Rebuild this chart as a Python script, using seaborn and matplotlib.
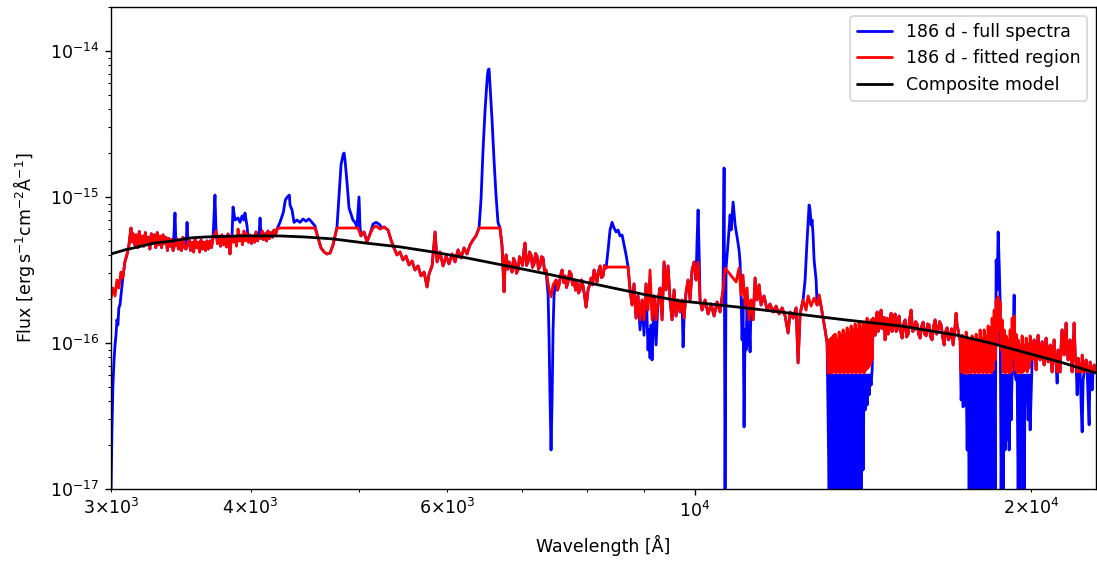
import math
import matplotlib
matplotlib.use("Agg")
import matplotlib.pyplot as plt
from matplotlib.ticker import FuncFormatter, NullFormatter
import seaborn as sns
import pandas as pd

# ---------------- data (wavelength in Angstrom, flux in units of 1e-16 erg/s/cm2/A) -------------
FLUX_UNIT = 1e-16

# --- UV blue edge (differs between the two series)
full_edge = [(3000, 0.091), (3006, 0.253), (3012, 0.515), (3019, 0.765), (3025, 0.969), (3031, 1.13),
             (3037, 1.44), (3043, 1.33), (3049, 1.74), (3056, 1.82), (3062, 2.10), (3074, 2.79)]
fit_edge = [(3000, 2.03), (3012, 2.38), (3025, 2.10), (3037, 2.70), (3049, 2.38), (3062, 3.06),
            (3074, 2.79)]

# --- UV/blue continuum pieces shared by both series
cont_1 = [(3087, 3.59), (3100, 4.01), (3113, 4.69), (3126, 6.13), (3133, 4.92), (3140, 5.6),
          (3150, 4.7), (3160, 5.5), (3170, 4.5), (3180, 5.8), (3190, 4.8), (3200, 5.4), (3210, 4.6),
          (3220, 5.7), (3230, 4.9), (3240, 5.3), (3250, 4.4), (3260, 5.6), (3270, 4.8), (3280, 5.5),
          (3290, 4.5), (3300, 5.7), (3310, 4.7), (3320, 5.4), (3330, 4.5), (3340, 5.5), (3350, 4.8),
          (3360, 5.3), (3370, 4.3), (3380, 5.2), (3390, 4.6), (3400, 5.1), (3410, 4.3)]
cont_2 = [(3437, 5.16), (3447, 4.4), (3458, 5.0), (3468, 4.3), (3480, 5.3), (3491, 4.5), (3502, 4.4)]
cont_3 = [(3524, 5.08), (3535, 4.3), (3546, 4.9), (3557, 4.2), (3568, 5.24), (3579, 4.5), (3590, 4.9),
          (3601, 4.2), (3612, 5.08), (3623, 4.4), (3634, 4.9), (3645, 4.3), (3656, 5.0), (3667, 4.4),
          (3679, 5.0), (3690, 4.5), (3702, 5.24)]
cont_4 = [(3725, 5.85), (3736, 4.8), (3748, 5.4), (3760, 4.6), (3771, 5.5), (3783, 4.7), (3795, 5.2),
          (3806, 4.55), (3818, 5.58), (3826, 4.6), (3834, 4.07), (3842, 5.0), (3850, 5.41)]
cont_5 = [(3983, 4.9), (3995, 5.49), (4008, 4.8), (4020, 5.4), (4032, 4.9), (4045, 5.76), (4058, 5.0),
          (4070, 5.4)]
cont_6 = [(4088, 5.2), (4096, 5.85), (4108, 5.1), (4121, 5.6), (4134, 5.0), (4146, 5.85), (4159, 5.2),
          (4172, 5.7), (4185, 5.3), (4198, 5.94), (4211, 5.5), (4224, 6.03)]

# --- narrow emission spikes only in the full spectrum
full_spike_a = [(3423, 7.77), (3430, 4.69)]
full_spike_b = [(3509, 6.70), (3516, 4.69)]
full_spike_c = [(3717, 10.3)]
full_spike_d = [(4079, 7.18)]
full_plateau = [(3858, 8.54), (3874, 6.95), (3898, 7.18), (3914, 6.70), (3930, 7.41), (3946, 6.95),
                (3954, 7.77), (3971, 6.33)]
fit_plateau = [(3862, 4.9), (3874, 5.3), (3886, 4.6), (3898, 6.03), (3910, 5.0), (3922, 5.5),
               (3934, 4.7), (3946, 5.85), (3958, 5.0), (3971, 5.6)]

# --- Hbeta region
full_hbeta = [(4250, 6.70), (4280, 7.88), (4297, 9.53), (4315, 10.0), (4333, 10.3), (4339, 8.81),
              (4357, 8.15), (4375, 6.70), (4402, 6.95), (4429, 6.70), (4457, 7.07), (4484, 6.82),
              (4512, 7.07), (4540, 6.70), (4568, 6.33), (4597, 5.24), (4625, 4.48), (4654, 4.20),
              (4683, 4.07), (4712, 4.13), (4741, 4.69), (4761, 5.41), (4780, 6.23), (4800, 10.3),
              (4820, 16.6), (4840, 19.4), (4850, 20.0), (4860, 17.9), (4880, 12.5), (4900, 8.41),
              (4920, 7.65), (4940, 6.95), (4961, 6.70), (4981, 6.23), (5002, 10.0), (5012, 6.33),
              (5022, 5.41), (5054, 5.76), (5085, 4.92), (5117, 5.58), (5149, 6.53), (5181, 6.70),
              (5212, 6.53), (5245, 6.13), (5267, 6.23), (5310, 5.94)]
fit_hbeta = [(4250, 6.13), (4568, 6.13), (4597, 5.24), (4625, 4.48), (4654, 4.20), (4683, 4.07),
             (4712, 4.13), (4741, 4.69), (4761, 5.41), (4780, 6.13), (4991, 6.13), (5022, 5.41),
             (5054, 5.76), (5085, 4.92), (5117, 5.58), (5149, 6.13), (5181, 6.33), (5223, 6.03),
             (5267, 6.23), (5310, 5.94)]

# --- optical continuum shared by both
cont_optical = [(5343, 5.08), (5376, 4.48), (5409, 4.01), (5443, 4.20), (5477, 3.70), (5511, 3.94),
                (5545, 3.42), (5580, 3.64), (5614, 3.16), (5649, 3.37), (5684, 2.88), (5720, 3.06),
                (5755, 2.42), (5779, 2.97), (5815, 3.37), (5851, 5.76), (5875, 3.59), (5911, 4.20),
                (5948, 3.37), (5985, 3.94), (6022, 3.48), (6059, 4.07), (6097, 3.59), (6135, 4.34),
                (6173, 3.82), (6211, 4.48), (6249, 4.07), (6288, 4.69), (6327, 5.08), (6366, 5.41),
                (6406, 6.13)]

# --- Halpha (only in the full spectrum; the fit is flat across it)
full_halpha = [(6432, 9.53), (6459, 21.0), (6486, 39.4), (6513, 63.3), (6526, 74.1), (6540, 75.3),
               (6553, 58.5), (6580, 33.7), (6607, 17.9), (6634, 10.3), (6661, 6.70)]

cont_red_1 = [(6689, 6.13), (6717, 4.62), (6745, 2.24), (6760, 3.5), (6774, 4.01), (6795, 3.2),
              (6815, 3.59), (6836, 3.3), (6857, 3.06), (6878, 3.8), (6899, 3.59), (6920, 3.0),
              (6942, 3.16), (6963, 3.9), (6985, 3.70), (7006, 3.4), (7028, 4.34), (7043, 4.84),
              (7065, 3.4), (7087, 3.59), (7109, 4.2), (7131, 4.01), (7153, 3.3), (7175, 3.48),
              (7197, 4.1), (7219, 3.94), (7241, 3.2), (7264, 3.37), (7287, 3.9), (7310, 3.82),
              (7332, 3.1), (7355, 3.16)]
full_dip_7400 = [(7386, 2.13), (7401, 1.05), (7416, 0.407), (7431, 0.185), (7447, 0.407),
                 (7462, 1.23), (7477, 2.13)]
fit_dip_7400 = [(7401, 2.31), (7431, 2.07), (7462, 2.50)]
cont_red_2 = [(7508, 2.70), (7531, 2.3), (7555, 2.50), (7578, 2.9), (7602, 3.16), (7625, 2.6),
              (7649, 2.88), (7672, 2.4), (7696, 2.62), (7720, 3.1), (7744, 2.97), (7768, 2.5),
              (7792, 2.70), (7816, 2.3), (7840, 2.58), (7865, 2.2), (7889, 2.31), (7913, 2.7),
              (7938, 2.46), (7963, 2.1), (7988, 1.76), (8004, 2.0), (8020, 2.31), (8045, 2.5),
              (8070, 2.79), (8095, 2.5), (8120, 3.16), (8145, 2.9), (8170, 2.62), (8195, 3.1),
              (8221, 3.37), (8246, 2.8), (8272, 2.88), (8298, 3.4), (8324, 3.26)]
full_ca = [(8358, 4.34), (8392, 5.94), (8427, 6.70), (8462, 6.13), (8497, 5.76), (8532, 5.94),
           (8567, 5.41), (8603, 5.49), (8638, 4.69), (8674, 4.01), (8710, 3.31)]
fit_ca = [(8341, 3.31), (8710, 3.31)]

full_z = [(8745, 2.31), (8781, 1.82), (8817, 2.54), (8854, 1.48), (8890, 2.10), (8927, 1.23),
          (8964, 1.97), (9001, 1.13), (9038, 2.54), (9075, 0.895), (9094, 1.23), (9113, 0.789),
          (9132, 1.33), (9151, 0.765), (9170, 1.23), (9189, 2.10), (9227, 0.969), (9265, 1.97),
          (9303, 2.38), (9342, 1.44), (9380, 3.59), (9419, 2.31), (9458, 3.37), (9497, 1.97),
          (9536, 1.44), (9576, 2.31), (9615, 1.53), (9655, 1.97), (9695, 1.63), (9735, 1.97),
          (9755, 0.939), (9775, 1.48), (9816, 2.24), (9856, 2.70), (9897, 1.97), (9938, 3.16),
          (9979, 3.59), (10020, 2.70), (10041, 5.08), (10062, 8.15), (10082, 4.34), (10103, 1.97),
          (10145, 1.68), (10208, 1.97), (10271, 1.58), (10335, 1.85), (10399, 1.53), (10463, 1.91),
          (10528, 1.63), (10593, 2.31), (10616, 15.8), (10637, 0.091)]
fit_z = [(8745, 2.31), (8781, 1.82), (8817, 2.54), (8854, 1.48), (8890, 2.10), (8927, 1.44),
         (8964, 1.97), (9001, 1.44), (9038, 2.54), (9075, 1.68), (9113, 3.16), (9151, 1.44),
         (9189, 2.10), (9227, 1.44), (9265, 1.97), (9303, 2.38), (9342, 1.44), (9380, 3.59),
         (9419, 2.31), (9458, 3.37), (9497, 1.97), (9536, 1.44), (9576, 2.31), (9615, 1.53),
         (9655, 1.97), (9695, 1.63), (9735, 1.97), (9775, 1.48), (9816, 2.24), (9856, 2.70),
         (9897, 1.97), (9938, 3.16), (9979, 3.59), (10020, 2.70), (10062, 3.59), (10103, 1.97),
         (10145, 1.68), (10208, 1.97), (10271, 1.58), (10335, 1.85), (10399, 1.53), (10463, 1.91),
         (10528, 1.63), (10593, 2.31), (10637, 3.26)]

full_j = [(10659, 3.26), (10703, 4.84), (10748, 7.53), (10770, 5.94), (10815, 9.22), (10860, 6.43),
          (10904, 5.32), (10948, 4.34), (10971, 3.59), (10994, 2.13), (11017, 1.05), (11039, 1.97),
          (11062, 0.266), (11085, 1.23), (11108, 0.895), (11131, 1.97), (11154, 0.969), (11177, 1.44),
          (11200, 0.868), (11223, 1.97), (11270, 1.44), (11316, 2.79), (11363, 1.97), (11410, 2.50),
          (11457, 1.82), (11528, 2.10), (11599, 1.68), (11671, 1.85), (11743, 1.63), (11817, 1.79),
          (11890, 1.58), (11964, 1.74), (12039, 1.53), (12113, 1.17), (12163, 1.63), (12239, 1.48),
          (12315, 1.74), (12365, 0.730), (12416, 1.58), (12493, 1.97), (12545, 2.70), (12597, 5.08),
          (12649, 8.81), (12675, 8.15), (12701, 6.43), (12727, 6.95), (12753, 5.49), (12780, 3.70),
          (12833, 2.70), (12859, 1.82), (12912, 2.13), (12992, 1.63), (13073, 1.23), (13127, 1.00)]
fit_j = [(10881, 2.62), (10948, 3.26), (10994, 2.13), (11039, 2.92), (11085, 1.82), (11131, 2.38),
         (11177, 1.44), (11223, 1.97), (11270, 1.44), (11316, 2.79), (11363, 1.97), (11410, 2.50),
         (11457, 1.82), (11528, 2.10), (11599, 1.68), (11671, 1.85), (11743, 1.63), (11817, 1.79),
         (11890, 1.58), (11964, 1.74), (12039, 1.53), (12113, 1.17), (12163, 1.63), (12239, 1.48),
         (12315, 1.74), (12365, 0.730), (12416, 1.58), (12493, 1.97), (12571, 1.68), (12623, 2.10),
         (12701, 1.79), (12780, 2.03), (12859, 1.82), (12912, 2.13), (12992, 1.63), (13073, 1.23),
         (13127, 1.00)]

full_telluric1 = [(13155, 0.297), (13182, 0.091), (13208, 0.604), (13235, 0.091), (13263, 0.604),
                  (13290, 0.091), (13318, 0.604), (13345, 0.091), (13373, 0.604), (13400, 0.091),
                  (13428, 0.604), (13456, 0.091), (13483, 0.604), (13511, 0.091), (13539, 0.604),
                  (13567, 0.091), (13595, 0.604), (13624, 0.091), (13652, 0.604), (13680, 0.091),
                  (13708, 0.604), (13737, 0.091), (13764, 0.604), (13793, 0.091), (13821, 0.604),
                  (13850, 0.091), (13879, 0.604), (13907, 0.091), (13936, 0.604), (13965, 0.091),
                  (13993, 0.604), (14022, 0.091), (14051, 0.604), (14080, 0.091), (14109, 0.604),
                  (14138, 0.135), (14168, 0.604), (14197, 0.348), (14226, 0.604), (14255, 0.376),
                  (14285, 0.604), (14314, 0.441), (14344, 0.604), (14374, 0.515), (14404, 0.654),
                  (14434, 1.48)]
fit_telluric1 = [(13155, 0.623), (13182, 1.05), (13208, 0.623), (13235, 1.08), (13263, 0.623),
                 (13290, 1.12), (13318, 0.640), (13345, 1.15), (13373, 0.623), (13400, 1.05),
                 (13428, 0.633), (13456, 1.19), (13483, 0.623), (13511, 1.12), (13539, 0.640),
                 (13567, 1.23), (13595, 0.623), (13624, 1.15), (13652, 0.633), (13680, 1.27),
                 (13708, 0.623), (13737, 1.19), (13764, 0.640), (13793, 1.31), (13821, 0.623),
                 (13850, 1.23), (13879, 0.633), (13907, 1.35), (13936, 0.623), (13965, 1.23),
                 (13993, 0.640), (14022, 1.39), (14051, 0.623), (14080, 1.27), (14109, 0.633),
                 (14138, 1.39), (14168, 0.623), (14197, 1.31), (14226, 0.654), (14255, 1.48),
                 (14285, 0.674), (14314, 1.35), (14344, 0.707), (14374, 1.44), (14404, 0.765),
                 (14434, 1.48)]

cont_h = [(14464, 1.2), (14494, 1.13), (14523, 1.45), (14553, 1.63), (14583, 1.2), (14613, 1.27),
          (14643, 1.55), (14673, 1.68), (14704, 1.25), (14734, 1.33), (14764, 1.5), (14794, 1.05),
          (14825, 1.3), (14856, 1.48), (14887, 1.15), (14917, 1.23), (14948, 1.45), (14979, 1.60),
          (15010, 1.2), (15041, 1.31), (15071, 1.5), (15102, 1.58), (15133, 1.2), (15165, 1.23),
          (15196, 1.45), (15228, 1.53), (15275, 1.2), (15322, 1.08), (15370, 1.35), (15418, 1.44),
          (15466, 1.1), (15514, 1.15), (15561, 1.45), (15609, 1.68), (15658, 1.2), (15707, 1.23),
          (15755, 1.4), (15804, 1.35), (15852, 1.15), (15901, 1.08), (15951, 1.3), (16001, 1.39),
          (16051, 1.15), (16101, 1.12), (16150, 1.35), (16199, 1.33), (16249, 1.1), (16299, 1.05),
          (16349, 1.3), (16400, 1.44), (16451, 1.15), (16502, 1.23), (16553, 1.4), (16605, 1.33),
          (16657, 1.1), (16709, 0.969), (16760, 1.2), (16812, 1.27), (16864, 1.05), (16916, 1.12),
          (16968, 1.25), (17021, 0.969), (17074, 1.2), (17127, 1.60), (17162, 1.3), (17197, 1.23),
          (17233, 1.1), (17268, 1.05)]

full_telluric2 = [(17304, 0.407), (17340, 0.604), (17376, 0.365), (17412, 0.604), (17448, 0.376),
                  (17485, 0.604), (17520, 0.185), (17556, 0.604), (17592, 0.091), (17628, 0.604),
                  (17665, 0.091), (17701, 0.604), (17738, 0.091), (17775, 0.604), (17811, 0.091),
                  (17848, 0.604), (17885, 0.091), (17922, 0.604), (17958, 0.091), (17995, 0.604),
                  (18032, 0.091), (18070, 0.604), (18107, 0.091), (18145, 0.604), (18182, 0.091),
                  (18220, 0.604), (18257, 0.091), (18295, 0.604), (18332, 0.091), (18370, 0.604),
                  (18408, 0.091), (18446, 0.604), (18484, 0.091), (18523, 1.23), (18561, 0.091),
                  (18600, 3.70), (18638, 2.31), (18676, 5.76), (18714, 3.59), (18752, 1.97),
                  (18791, 0.091), (18830, 0.604), (18870, 0.091), (18909, 0.604), (18948, 0.185),
                  (18987, 0.604), (19026, 0.217), (19065, 0.604), (19104, 0.185), (19143, 0.604),
                  (19182, 0.297), (19222, 0.604), (19262, 1.05), (19302, 2.13), (19342, 0.604),
                  (19381, 0.558), (19422, 0.604), (19462, 0.091), (19502, 0.604), (19542, 0.091),
                  (19583, 0.604), (19623, 0.091), (19664, 0.604), (19705, 0.091), (19746, 0.604),
                  (19787, 0.407), (19828, 0.604), (19869, 0.297), (19909, 0.604), (19949, 0.254)]
fit_telluric2 = [(17304, 0.633), (17340, 1.13), (17376, 0.623), (17412, 1.05), (17448, 0.633),
                 (17485, 1.19), (17520, 0.614), (17556, 1.08), (17592, 0.633), (17628, 1.02),
                 (17665, 0.623), (17701, 1.12), (17738, 0.633), (17775, 1.02), (17811, 0.623),
                 (17848, 1.15), (17885, 0.633), (17922, 1.05), (17958, 0.623), (17995, 1.23),
                 (18032, 0.633), (18070, 1.08), (18107, 0.623), (18145, 1.23), (18182, 0.633),
                 (18220, 1.12), (18257, 0.623), (18295, 1.31), (18332, 0.633), (18370, 1.27),
                 (18408, 0.623), (18446, 1.48), (18484, 0.654), (18523, 1.68), (18561, 0.765),
                 (18600, 1.97), (18638, 0.969), (18676, 2.07), (18714, 1.23), (18752, 1.91),
                 (18791, 0.895), (18830, 1.44), (18870, 0.633), (18909, 1.23), (18948, 0.623),
                 (18987, 1.12), (19026, 0.633), (19065, 1.05), (19104, 0.623), (19143, 1.23),
                 (19182, 0.633), (19222, 1.48), (19262, 0.765), (19302, 1.53), (19342, 0.654),
                 (19381, 1.15), (19422, 0.623), (19462, 1.05), (19502, 0.633), (19542, 0.969),
                 (19583, 0.623), (19623, 1.12), (19664, 0.633), (19705, 0.969), (19746, 0.654),
                 (19787, 1.08), (19828, 0.633), (19869, 0.985), (19909, 0.674), (19949, 1.12)]

full_k = [(20032, 0.765), (20074, 0.95), (20115, 1.05), (20157, 0.8), (20199, 0.654), (20240, 0.95),
          (20281, 1.13), (20323, 0.85), (20364, 0.765), (20406, 0.9), (20449, 1.02), (20491, 0.8),
          (20534, 0.707), (20576, 0.95), (20618, 1.08), (20661, 0.85), (20704, 0.741), (20746, 0.9),
          (20789, 0.969), (20832, 0.75), (20875, 0.633), (20918, 0.9), (20962, 1.05), (21005, 0.8),
          (21048, 0.707), (21091, 0.531), (21135, 0.895), (21178, 0.75), (21221, 0.633),
          (21265, 0.95), (21309, 1.23), (21353, 0.9), (21397, 0.828), (21441, 1.0), (21485, 1.37),
          (21530, 0.9), (21574, 0.765), (21618, 0.9), (21663, 1.05), (21708, 0.8), (21753, 0.633),
          (21798, 0.9), (21843, 1.37), (21888, 0.85), (21933, 0.707), (21979, 0.441), (22024, 0.786),
          (22070, 0.7), (22115, 0.633), (22161, 0.376), (22207, 0.246), (22253, 0.558), (22299, 0.633),
          (22345, 0.72), (22391, 0.765), (22437, 0.65), (22483, 0.407), (22529, 0.275), (22575, 0.741),
          (22622, 0.65), (22669, 0.477), (22715, 0.65), (22762, 0.707), (22806, 0.64), (22850, 0.654),
          (23080, 0.633)]
fit_k = [(20032, 0.765), (20074, 0.95), (20115, 1.05), (20157, 0.8), (20199, 0.654), (20240, 0.95),
         (20281, 1.13), (20323, 0.85), (20364, 0.765), (20406, 0.9), (20449, 1.02), (20491, 0.8),
         (20534, 0.707), (20576, 0.95), (20618, 1.08), (20661, 0.85), (20704, 0.741), (20746, 0.9),
         (20789, 0.969), (20832, 0.75), (20875, 0.633), (20918, 0.9), (20962, 1.05), (21005, 0.8),
         (21048, 0.707), (21091, 0.633), (21135, 0.895), (21178, 0.75), (21221, 0.633),
         (21265, 0.95), (21309, 1.23), (21353, 0.9), (21397, 0.828), (21441, 1.0), (21485, 1.37),
         (21530, 0.9), (21574, 0.765), (21618, 0.9), (21663, 1.05), (21708, 0.8), (21753, 0.633),
         (21798, 0.9), (21843, 1.37), (21888, 0.85), (21933, 0.707), (21979, 0.633), (22024, 0.786),
         (22070, 0.7), (22115, 0.633), (22161, 0.633), (22207, 0.828), (22253, 0.633), (22299, 0.633),
         (22345, 0.72), (22391, 0.765), (22437, 0.65), (22483, 0.633), (22529, 0.633), (22575, 0.741),
         (22622, 0.65), (22669, 0.633), (22715, 0.65), (22762, 0.707), (22806, 0.64), (22850, 0.654),
         (23080, 0.633)]

# --- composite model (black)
model = [(3000, 4.07), (3087, 4.34), (3172, 4.55), (3284, 4.84), (3402, 4.99), (3531, 5.24),
         (3641, 5.32), (3914, 5.41), (4250, 5.41), (4475, 5.32), (4741, 5.16), (5064, 4.84),
         (5443, 4.55), (5826, 4.20), (6249, 3.82), (6787, 3.37), (7370, 2.97), (7889, 2.66),
         (8444, 2.38), (9056, 2.13), (9695, 1.94), (10103, 1.88), (11085, 1.74), (12163, 1.60),
         (13624, 1.44), (15259, 1.31), (17160, 1.13), (18370, 1.00), (19664, 0.868), (21221, 0.741),
         (22850, 0.623), (23080, 0.613)]

labels = ["186 d - full spectra", "186 d - fitted region", "Composite model"]
colors = ["blue", "red", "black"]
y_ticks = [1e-17, 1e-16, 1e-15, 1e-14]

# assemble the two spectra from their pieces (in wavelength order)
full_spectrum = (full_edge + cont_1 + full_spike_a + cont_2 + full_spike_b + cont_3 + full_spike_c
                 + cont_4 + full_plateau + cont_5 + full_spike_d + cont_6 + full_hbeta + cont_optical
                 + full_halpha + cont_red_1 + full_dip_7400 + cont_red_2 + full_ca + full_z + full_j
                 + full_telluric1 + cont_h + full_telluric2 + full_k)
fitted_region = (fit_edge + cont_1 + cont_2 + cont_3 + cont_4 + fit_plateau + cont_5 + cont_6
                 + fit_hbeta + cont_optical + cont_red_1 + fit_dip_7400 + cont_red_2 + fit_ca + fit_z
                 + fit_j + fit_telluric1 + cont_h + fit_telluric2 + fit_k)


def to_frame(pairs):
    df = pd.DataFrame(pairs, columns=["wavelength", "flux"])
    df["flux"] = df["flux"] * FLUX_UNIT
    return df


def log_label(x, pos):
    if x <= 0:
        return ""
    e = int(math.floor(math.log10(x) + 1e-9))
    c = int(round(x / 10 ** e))
    if c == 1:
        return rf"$10^{{{e}}}$"
    if c in (2, 3, 4, 6):
        return rf"${c}{{\times}}10^{{{e}}}$"
    return ""


# ---------------- plot ----------------
sns.set_style("ticks")
plt.rcParams.update({
    "font.family": ["DejaVu Sans"],
    "font.size": 10,
    "text.color": "black",
    "axes.labelcolor": "black",
    "axes.edgecolor": "black",
    "xtick.color": "black",
    "ytick.color": "black",
    "axes.linewidth": 0.8,
    "mathtext.fontset": "dejavusans",
})

fig = plt.figure(figsize=(1097 / 125, 561 / 125), dpi=125)
ax = fig.add_axes([111 / 1097, 72 / 561, 985 / 1097, 482 / 561])

for data, lab, col in zip([full_spectrum, fitted_region, model], labels, colors):
    sns.lineplot(data=to_frame(data), x="wavelength", y="flux", ax=ax, color=col,
                 label=lab, sort=False, estimator=None, linewidth=1.6)

ax.set_xscale("log")
ax.set_yscale("log")
ax.set_xlim(3000, 22850)
ax.set_ylim(1e-17, 2e-14)
ax.set_yticks(y_ticks)
ax.set_ylim(1e-17, 2e-14)
ax.xaxis.set_major_formatter(FuncFormatter(log_label))
ax.xaxis.set_minor_formatter(FuncFormatter(log_label))
ax.yaxis.set_minor_formatter(NullFormatter())
ax.set_xlabel("Wavelength [Å]", labelpad=8)
ax.set_ylabel(r"Flux [$\mathrm{erg\,s^{-1}cm^{-2}\AA^{-1}}$]", labelpad=7)
ax.legend(loc="upper right")

fig.savefig("out.png", dpi=125)
